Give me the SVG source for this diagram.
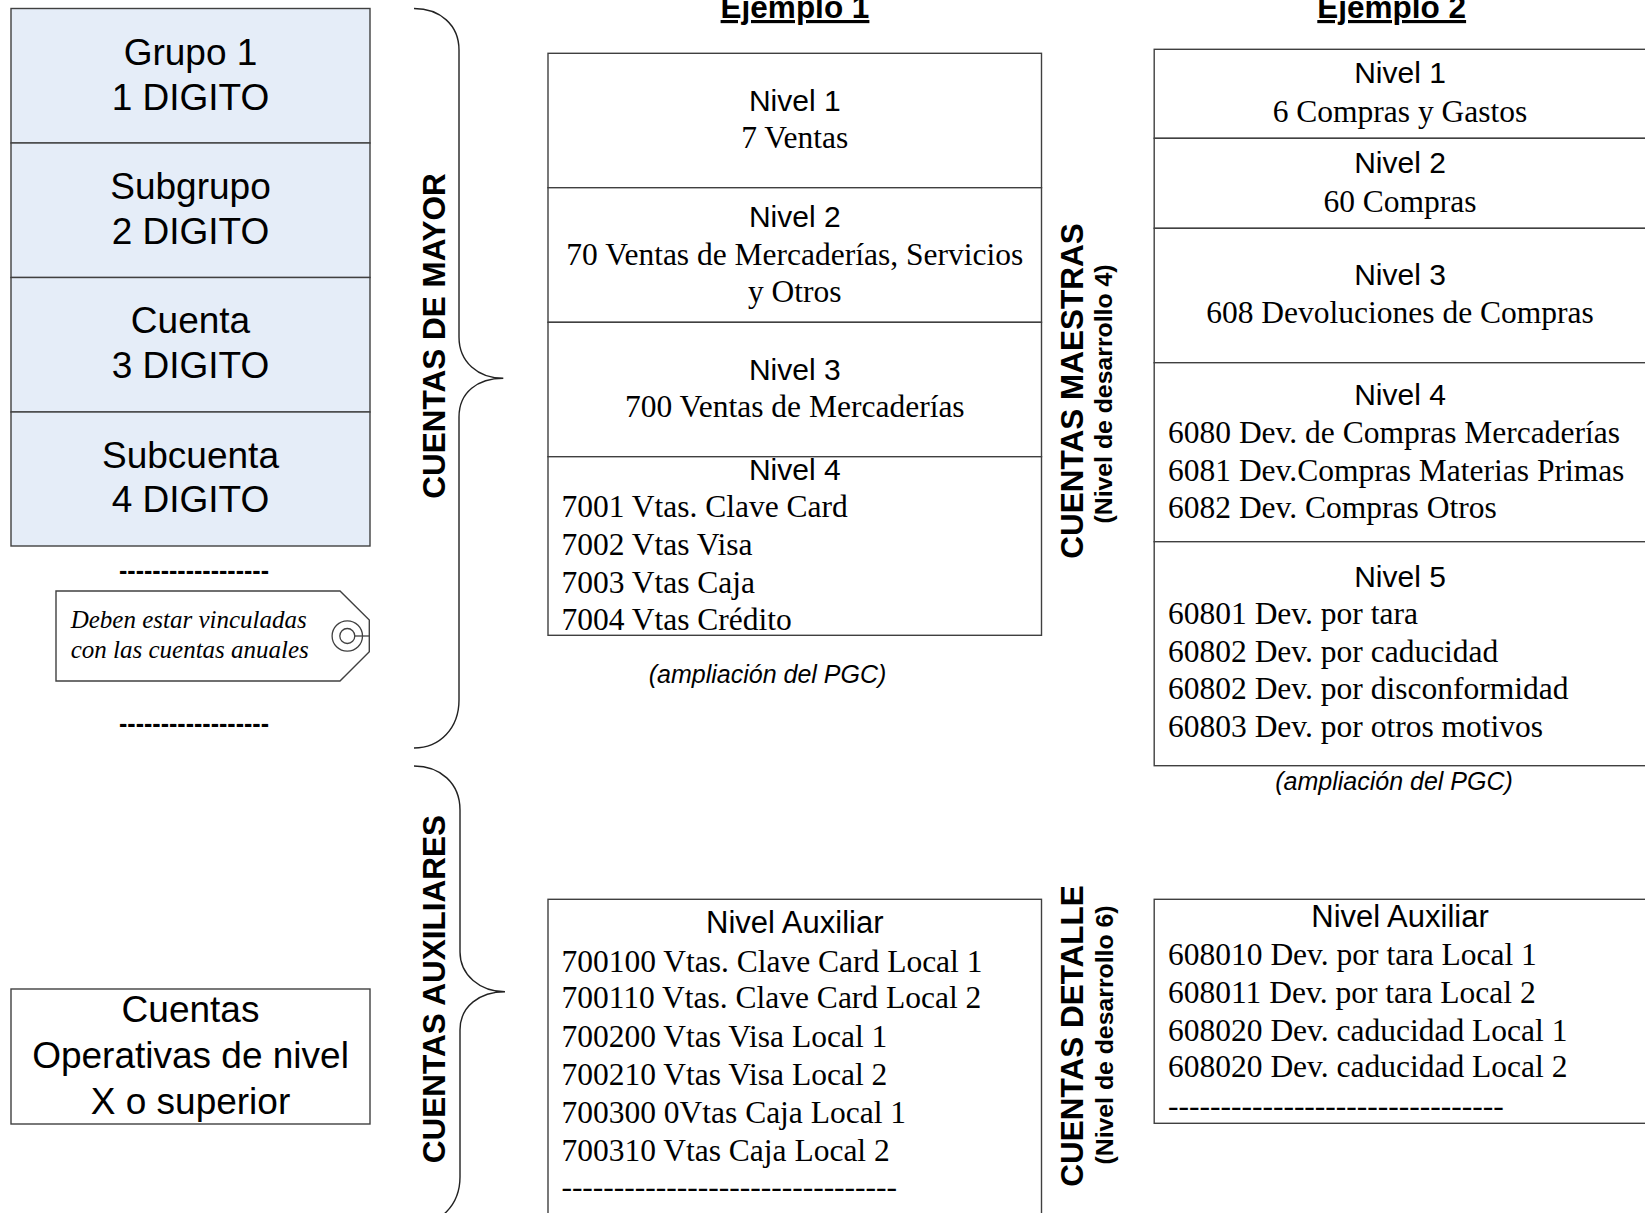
<svg xmlns="http://www.w3.org/2000/svg" width="1645" height="1213" viewBox="0 0 1645 1213">
<style>
.box{fill:#ffffff;stroke:#404040;stroke-width:1.4}
.blue{fill:#e5edf8}
.sans{font-family:"Liberation Sans",Arial,sans-serif;fill:#000}
.serif{font-family:"Liberation Serif","Times New Roman",serif;fill:#000}
.big{font-size:37px}
.niv{font-size:30px}
.aux{font-size:31px}
.t{font-size:31.5px}
.c{text-anchor:middle}
.vlab{font-weight:bold;font-size:31.5px;text-anchor:middle}
.vsub{font-weight:bold;font-size:24.8px;text-anchor:middle}
.brace{fill:none;stroke:#222;stroke-width:1.4}
.note{font-size:25px;font-style:italic}
.dash{font-size:25px;font-weight:bold}
.title{font-size:31.5px;font-weight:bold;text-decoration:underline}
</style>
<rect x="0" y="0" width="1645" height="1213" fill="#ffffff"/>

<!-- Left stack -->
<g id="grupo">
<rect class="box blue" x="11" y="8.5" width="359" height="134.5"/>
<text class="sans big c" x="190.5" y="65">Grupo 1</text>
<text class="sans big c" x="190.5" y="110">1 DIGITO</text>
</g>
<g id="subgrupo">
<rect class="box blue" x="11" y="143" width="359" height="134.5"/>
<text class="sans big c" x="190.5" y="198.5">Subgrupo</text>
<text class="sans big c" x="190.5" y="243.5">2 DIGITO</text>
</g>
<g id="cuenta">
<rect class="box blue" x="11" y="277.5" width="359" height="134.5"/>
<text class="sans big c" x="190.5" y="333">Cuenta</text>
<text class="sans big c" x="190.5" y="378">3 DIGITO</text>
</g>
<g id="subcuenta">
<rect class="box blue" x="11" y="412" width="359" height="134"/>
<text class="sans big c" x="190.5" y="468">Subcuenta</text>
<text class="sans big c" x="190.5" y="512">4 DIGITO</text>
</g>

<g id="dashes-top">
<text class="sans dash c" x="194" y="579" textLength="150" lengthAdjust="spacing">------------------</text>
</g>
<g id="tag">
<path class="box" d="M56,591 H340 L369.3,620 V651.7 L340,681 H56 Z"/>
<circle cx="347.3" cy="636" r="15.2" fill="none" stroke="#404040" stroke-width="1.3"/>
<circle cx="347.3" cy="636" r="7.5" fill="none" stroke="#404040" stroke-width="1.3"/>
<line x1="354.8" y1="636" x2="369.3" y2="636" stroke="#404040" stroke-width="1.3"/>
<text class="serif note" x="70.7" y="628">Deben estar vinculadas</text>
<text class="serif note" x="70.7" y="658">con las cuentas anuales</text>
</g>
<g id="dashes-bottom">
<text class="sans dash c" x="194" y="732" textLength="150" lengthAdjust="spacing">------------------</text>
</g>

<g id="operativas">
<rect class="box" x="11" y="989" width="359" height="135"/>
<text class="sans big c" x="190.5" y="1022">Cuentas</text>
<text class="sans big c" x="190.5" y="1068">Operativas de nivel</text>
<text class="sans big c" x="190.5" y="1113.5">X o superior</text>
</g>

<!-- Braces (no connectors in the picture) -->
<g id="connectors">
<path class="brace" d="M414,8.5 C440,8.5 459,25 459,50 V337 C459,362 478,378.3 503.3,378.3 C478,378.3 459,392 459,417 V700 C459,728 440,748 414,748"/>
<path class="brace" d="M414,766 C440,766 460,783 460,810 V952 C460,975 480,991.7 505,991.7 C480,991.7 460,1006 460,1030 V1177 C460,1205 440,1225 414,1225"/>
</g>

<g id="label-mayor">
<text class="sans vlab" transform="translate(445,336) rotate(-90)">CUENTAS DE MAYOR</text>
</g>
<g id="label-auxiliares">
<text class="sans vlab" transform="translate(445,989) rotate(-90)">CUENTAS AUXILIARES</text>
</g>
<g id="label-maestras">
<text class="sans vlab" transform="translate(1083,391) rotate(-90)">CUENTAS MAESTRAS</text>
<text class="sans vsub" transform="translate(1112,394) rotate(-90)">(Nivel de desarrollo 4)</text>
</g>
<g id="label-detalle">
<text class="sans vlab" transform="translate(1082.5,1036) rotate(-90)">CUENTAS DETALLE</text>
<text class="sans vsub" transform="translate(1113,1035) rotate(-90)">(Nivel de desarrollo 6)</text>
</g>

<!-- Ejemplo 1 -->
<g id="ejemplo1-title">
<text class="sans title c" x="795" y="18">Ejemplo 1</text>
</g>
<g id="e1-nivel1">
<rect class="box" x="548" y="53.3" width="493.5" height="134.4"/>
<text class="sans niv c" x="794.8" y="111">Nivel 1</text>
<text class="serif t c" x="794.8" y="147.7">7 Ventas</text>
</g>
<g id="e1-nivel2">
<rect class="box" x="548" y="187.7" width="493.5" height="134.6"/>
<text class="sans niv c" x="794.8" y="226.7">Nivel 2</text>
<text class="serif t c" x="794.8" y="265">70 Ventas de Mercaderías, Servicios</text>
<text class="serif t c" x="794.8" y="301.7">y Otros</text>
</g>
<g id="e1-nivel3">
<rect class="box" x="548" y="322.3" width="493.5" height="134.4"/>
<text class="sans niv c" x="794.8" y="380">Nivel 3</text>
<text class="serif t c" x="794.8" y="416.7">700 Ventas de Mercaderías</text>
</g>
<g id="e1-nivel4">
<rect class="box" x="548" y="456.7" width="493.5" height="178.6"/>
<text class="sans niv c" x="794.8" y="480">Nivel 4</text>
<text class="serif t" x="561.4" y="517.3">7001 Vtas. Clave Card</text>
<text class="serif t" x="561.4" y="555">7002 Vtas Visa</text>
<text class="serif t" x="561.4" y="592.7">7003 Vtas Caja</text>
<text class="serif t" x="561.4" y="630">7004 Vtas Crédito</text>
</g>
<g id="e1-ampliacion">
<text class="sans c" x="767.5" y="683.3" style="font-size:25px;font-style:italic">(ampliación del PGC)</text>
</g>
<g id="e1-auxiliar">
<rect class="box" x="548" y="899.3" width="493.5" height="330"/>
<text class="sans aux c" x="794.8" y="933.3">Nivel Auxiliar</text>
<text class="serif t" x="561.4" y="971.7">700100 Vtas. Clave Card Local 1</text>
<text class="serif t" x="561.4" y="1008.3">700110 Vtas. Clave Card Local 2</text>
<text class="serif t" x="561.4" y="1046.7">700200 Vtas Visa Local 1</text>
<text class="serif t" x="561.4" y="1085">700210 Vtas Visa Local 2</text>
<text class="serif t" x="561.4" y="1122.7">700300 0Vtas Caja Local 1</text>
<text class="serif t" x="561.4" y="1161">700310 Vtas Caja Local 2</text>
<text class="serif t" x="561.4" y="1197">--------------------------------</text>
</g>

<!-- Ejemplo 2 -->
<g id="ejemplo2-title">
<text class="sans title c" x="1391.7" y="18">Ejemplo 2</text>
</g>
<g id="e2-nivel1">
<rect class="box" x="1154.2" y="49.3" width="500" height="89"/>
<text class="sans niv c" x="1400" y="83.3">Nivel 1</text>
<text class="serif t c" x="1400" y="121.7">6 Compras y Gastos</text>
</g>
<g id="e2-nivel2">
<rect class="box" x="1154.2" y="138.3" width="500" height="90"/>
<text class="sans niv c" x="1400" y="173.3">Nivel 2</text>
<text class="serif t c" x="1400" y="211.7">60 Compras</text>
</g>
<g id="e2-nivel3">
<rect class="box" x="1154.2" y="228.3" width="500" height="134.4"/>
<text class="sans niv c" x="1400" y="285">Nivel 3</text>
<text class="serif t c" x="1400" y="323.3">608 Devoluciones de Compras</text>
</g>
<g id="e2-nivel4">
<rect class="box" x="1154.2" y="362.7" width="500" height="179"/>
<text class="sans niv c" x="1400" y="405">Nivel 4</text>
<text class="serif t" x="1168" y="443.3">6080 Dev. de Compras Mercaderías</text>
<text class="serif t" x="1168" y="481">6081 Dev.Compras Materias Primas</text>
<text class="serif t" x="1168" y="518.3">6082 Dev. Compras Otros</text>
</g>
<g id="e2-nivel5">
<rect class="box" x="1154.2" y="541.7" width="500" height="224"/>
<text class="sans niv c" x="1400" y="586.7">Nivel 5</text>
<text class="serif t" x="1168" y="624">60801 Dev. por tara</text>
<text class="serif t" x="1168" y="661.7">60802 Dev. por caducidad</text>
<text class="serif t" x="1168" y="699.3">60802 Dev. por disconformidad</text>
<text class="serif t" x="1168" y="737.3">60803 Dev. por otros motivos</text>
</g>
<g id="e2-ampliacion">
<text class="sans c" x="1394" y="790" style="font-size:25px;font-style:italic">(ampliación del PGC)</text>
</g>
<g id="e2-auxiliar">
<rect class="box" x="1154.2" y="899.3" width="500" height="224"/>
<text class="sans aux c" x="1400" y="926.7">Nivel Auxiliar</text>
<text class="serif t" x="1168" y="965">608010 Dev. por tara Local 1</text>
<text class="serif t" x="1168" y="1002.7">608011 Dev. por tara Local 2</text>
<text class="serif t" x="1168" y="1040.7">608020 Dev. caducidad Local 1</text>
<text class="serif t" x="1168" y="1077.3">608020 Dev. caducidad Local 2</text>
<text class="serif t" x="1168" y="1115.5">--------------------------------</text>
</g>
</svg>
